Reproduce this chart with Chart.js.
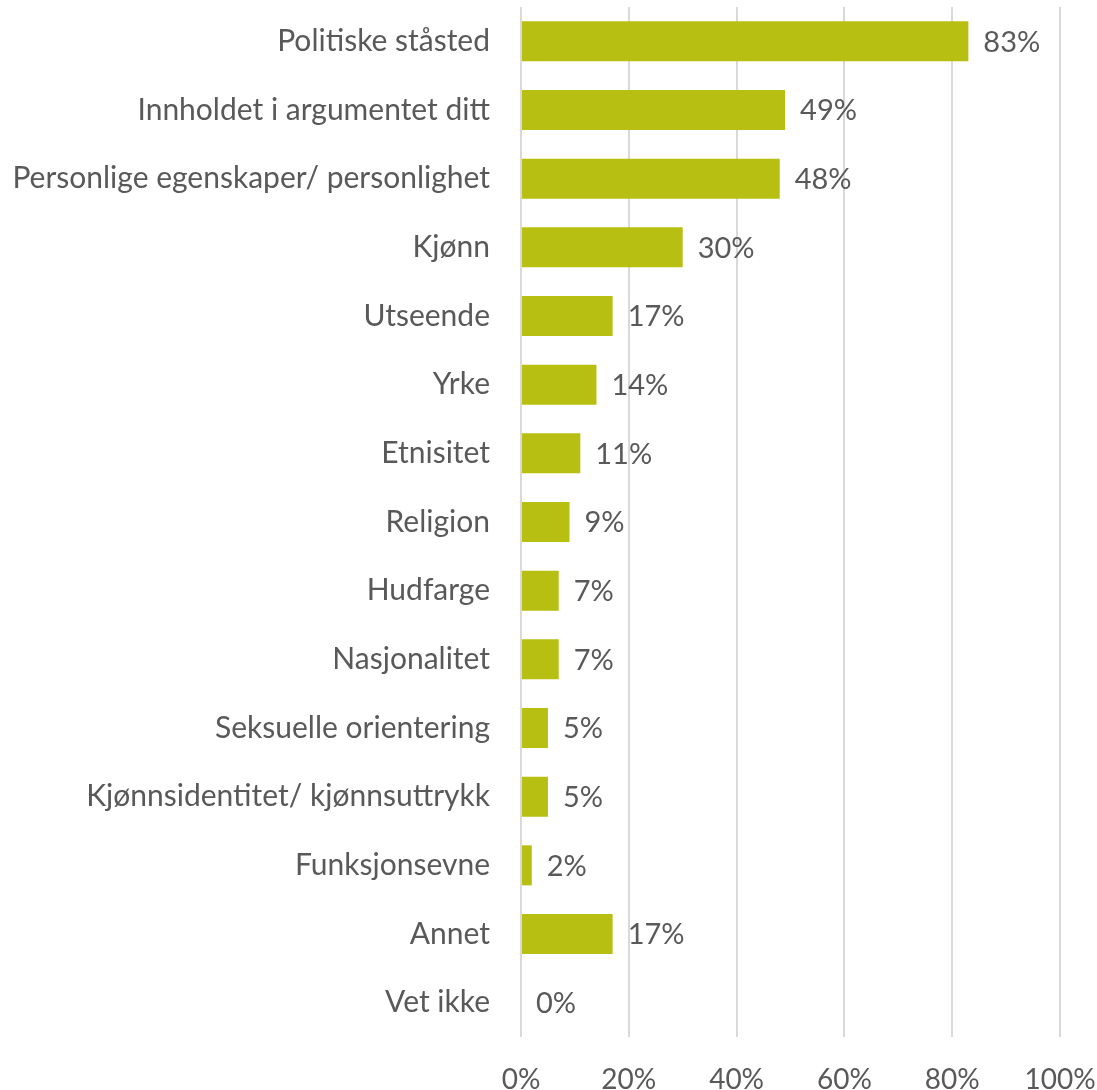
<!DOCTYPE html>
<html>
<head>
<meta charset="utf-8">
<script src="https://cdn.jsdelivr.net/npm/chart.js@4/dist/chart.umd.min.js"></script>
<style>
html,body{margin:0;padding:0;background:#fff;}
#wrap{width:1097px;height:1090px;position:relative;}
</style>
</head>
<body>
<div id="wrap"><canvas id="c" width="1097" height="1090"></canvas></div>
<script>
const categories = [
  "Politiske ståsted",
  "Innholdet i argumentet ditt",
  "Personlige egenskaper/ personlighet",
  "Kjønn",
  "Utseende",
  "Yrke",
  "Etnisitet",
  "Religion",
  "Hudfarge",
  "Nasjonalitet",
  "Seksuelle orientering",
  "Kjønnsidentitet/ kjønnsuttrykk",
  "Funksjonsevne",
  "Annet",
  "Vet ikke"
];
const values = [83, 49, 48, 30, 17, 14, 11, 9, 7, 7, 5, 5, 2, 17, 0];
const xTicks = [0, 20, 40, 60, 80, 100];

const FONT = "Lato, 'Open Sans', sans-serif";
const TEXT = "#595959";

const valueLabels = {
  id: 'valueLabels',
  afterDatasetsDraw(chart) {
    const ctx = chart.ctx;
    const meta = chart.getDatasetMeta(0);
    ctx.save();
    ctx.font = "29px " + FONT;
    ctx.fillStyle = TEXT;
    ctx.textAlign = 'left';
    ctx.textBaseline = 'middle';
    meta.data.forEach((bar, i) => {
      ctx.fillText(values[i] + '%', bar.x + 15, bar.y + 1);
    });
    ctx.restore();
  }
};

new Chart(document.getElementById('c'), {
  type: 'bar',
  data: {
    labels: categories,
    datasets: [{
      data: values,
      backgroundColor: '#B7BF12',
      borderWidth: 0,
      categoryPercentage: 0.583,
      barPercentage: 1.0
    }]
  },
  options: {
    indexAxis: 'y',
    responsive: false,
    animation: false,
    layout: { padding: { top: 7, right: 37, left: 0, bottom: 0 } },
    plugins: { legend: { display: false }, tooltip: { enabled: false } },
    scales: {
      x: {
        min: 0, max: 100,
        afterBuildTicks(scale) { scale.ticks = xTicks.map(v => ({ value: v })); },
        afterFit(scale) { scale.height = 53; scale.paddingLeft = 0; scale.paddingRight = 0; },
        grid: { color: '#D9D9D9', lineWidth: 2, drawTicks: false },
        border: { display: false },
        ticks: {
          padding: 26,
          color: TEXT,
          font: { family: FONT, size: 28 },
          maxRotation: 0,
          callback: v => v + '%'
        }
      },
      y: {
        afterFit(scale) { scale.width = 521; scale.paddingTop = 0; scale.paddingBottom = 0; },
        grid: { display: false, drawTicks: false },
        border: { display: false },
        ticks: {
          padding: 31,
          color: TEXT,
          font: { family: FONT, size: 30 }
        }
      }
    }
  },
  plugins: [valueLabels]
});
</script>
</body>
</html>
